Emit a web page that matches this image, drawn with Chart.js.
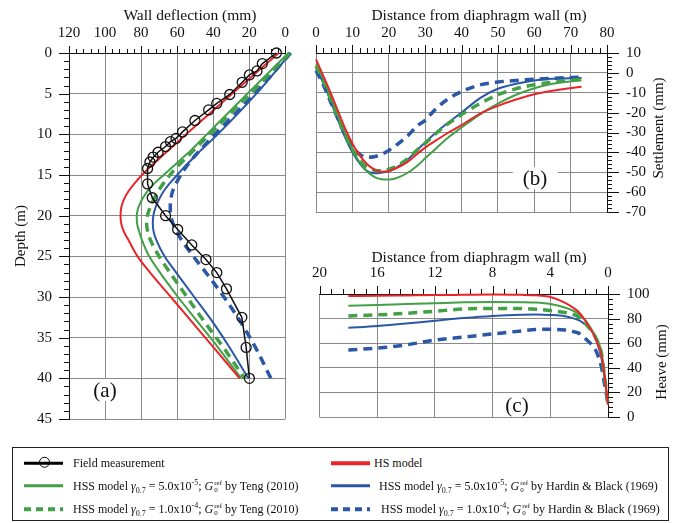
<!DOCTYPE html>
<html lang="en">

<head>
    <meta charset="UTF-8">
    <title>Wall deflection, settlement and heave</title>
    <script src="https://cdn.jsdelivr.net/npm/chart.js@4.4.1/dist/chart.umd.min.js"></script>
    <style>
        body { margin: 0; background: #fff; font-family: 'Liberation Serif', 'Times New Roman', serif; color: #111; }
        #page { position: relative; width: 682px; height: 523px; overflow: hidden; }
        #page canvas { position: absolute; }
        .tag { position: absolute; background: #fff; font-size: 21px; line-height: 22px; padding: 0 10px; transform: translate(-50%, -50%); }
        .htitle { position: absolute; font-size: 15.5px; white-space: nowrap; transform: translate(-50%, -50%); }
        .vtitle { position: absolute; font-size: 15px; white-space: nowrap; transform: translate(-50%, -50%) rotate(-90deg); }
        #legend { position: absolute; left: 12px; top: 447px; width: 657px; height: 74px; border: 1.5px solid #222; box-sizing: border-box; }
        #legend .sym { position: absolute; width: 39px; height: 3.5px; transform: translateY(-50%); }
        #legend .txt { position: absolute; font-size: 12px; line-height: 18px; white-space: nowrap; transform: translateY(-50%); }
        #legend sub, #legend sup { font-size: 8px; line-height: 0; }
        .st { display: inline-flex; flex-direction: column; vertical-align: middle; font-size: 7px; line-height: 7px; margin-left: 1px; }
        .circ { position: absolute; width: 9px; height: 9px; border: 1.4px solid #000; border-radius: 50%; left: 15px; top: -5.5px; }
    </style>
</head>

<body>
    <div id="page">
        <canvas id="chartA" width="300" height="445" style="left:0;top:0"></canvas>
        <canvas id="chartB" width="382" height="240" style="left:300px;top:0"></canvas>
        <canvas id="chartC" width="382" height="205" style="left:300px;top:240px"></canvas>

        <div class="htitle" style="left:190px;top:15px">Wall deflection (mm)</div>
        <div class="htitle" style="left:479px;top:15px">Distance from diaphragm wall (m)</div>
        <div class="htitle" style="left:479px;top:257px">Distance from diaphragm wall (m)</div>
        <div class="vtitle" style="left:658px;top:128px">Settlement (mm)</div>
        <div class="vtitle" style="left:661px;top:362px">Heave (mm)</div>

        <div class="tag" style="left:105px;top:390px">(a)</div>
        <div class="tag" style="left:535px;top:178px">(b)</div>
        <div class="tag" style="left:517px;top:405px">(c)</div>

        <div id="legend">
            <div class="sym" style="left:11px;top:15px;height:2.5px;background:#000"><div class="circ"></div></div>
            <div class="txt" style="left:60px;top:15px">Field measurement</div>
            <div class="sym" style="left:318px;top:15px;background:#e8262a"></div>
            <div class="txt" style="left:361px;top:15px">HS model</div>

            <div class="sym" style="left:11px;top:37.5px;background:#43a047"></div>
            <div class="txt" style="left:60px;top:37.5px">HSS model <i>γ</i><sub>0.7</sub> = 5.0x10<sup>-5</sup>; <i>G</i><span class="st"><span>ref</span><span>0</span></span> by Teng (2010)</div>
            <div class="sym" style="left:318px;top:37.5px;background:#2a57a6"></div>
            <div class="txt" style="left:366px;top:37.5px">HSS model <i>γ</i><sub>0.7</sub> = 5.0x10<sup>-5</sup>; <i>G</i><span class="st"><span>ref</span><span>0</span></span> by Hardin &amp; Black (1969)</div>

            <div class="sym" style="left:11px;top:61px;background:repeating-linear-gradient(to right,#43a047 0 7px,transparent 7px 12px)"></div>
            <div class="txt" style="left:60px;top:61px">HSS model <i>γ</i><sub>0.7</sub> = 1.0x10<sup>-4</sup>; <i>G</i><span class="st"><span>ref</span><span>0</span></span> by Teng (2010)</div>
            <div class="sym" style="left:318px;top:61px;background:repeating-linear-gradient(to right,#2a57a6 0 7px,transparent 7px 12px)"></div>
            <div class="txt" style="left:368px;top:61px">HSS model <i>γ</i><sub>0.7</sub> = 1.0x10<sup>-4</sup>; <i>G</i><span class="st"><span>ref</span><span>0</span></span> by Hardin &amp; Black (1969)</div>
        </div>
    </div>

    <script>
        // ---- (a) wall deflection (mm) vs depth (m)
        const fieldDepth = [0, 1.3, 2.2, 2.7, 3.6, 5.1, 6.2, 7.0, 8.3, 9.7, 10.5, 10.9, 11.5, 12.2, 12.8, 13.4, 14.2, 16.1, 17.8, 20.0, 21.7, 23.6, 25.4, 27.0, 29.0, 32.5, 36.2, 40.0];
        const fieldDefl = [4.9, 12.7, 15.7, 19.9, 23.9, 30.8, 38.0, 42.5, 50.1, 57.0, 60.6, 63.7, 66.4, 70.6, 73.3, 75.1, 76.4, 76.4, 73.8, 66.4, 59.7, 51.9, 44.0, 38.0, 32.6, 24.1, 21.7, 19.9];

        const modelDepth = [0, 5, 10, 12, 13, 14, 15, 16, 17, 18, 19, 20, 21, 22, 23, 25, 27, 30, 33, 36, 40];
        const deflHS = [3.6, 29.5, 55, 65, 70, 75, 79.5, 83.5, 87, 89.5, 91, 91.4, 91, 89.5, 87, 82, 75, 63.5, 52, 40.5, 25.3];
        const deflTeng5 = [-1.8, 21, 43.5, 52.5, 57.5, 62.5, 67.5, 72.5, 76.5, 79.5, 81.5, 82.4, 82.2, 81, 79.5, 75.5, 69.5, 59.5, 48.8, 38, 24.4];
        const deflTeng4 = [-2.5, 19.5, 42, 51, 55.5, 60, 64, 67.5, 70.5, 73, 75, 76.5, 76.9, 76.3, 74.8, 70, 64, 54.5, 45, 35, 22.6];
        const deflHB5 = [-3, 16, 37.5, 47, 51.5, 56, 60, 64, 67.5, 70, 72, 73.2, 73.5, 73, 71.5, 67, 60.5, 50.5, 40.5, 31.5, 20.5];
        const deflHB4 = [-3, 17, 39, 47.5, 51.5, 55, 58, 60.5, 62.5, 63.5, 63.8, 63.5, 62.2, 60.2, 57.5, 51, 44, 34, 25, 17, 8];

        // ---- (b) settlement (mm) vs distance from wall (m)
        const distB = [0, 2, 4, 6, 8, 10, 12, 14, 16, 18, 20, 22, 25, 28, 30, 33, 36, 40, 45, 50, 55, 60, 65, 73];
        const settleHS = [6.8, -1.5, -10, -19, -28, -35.5, -41.5, -45.8, -48.5, -49.7, -49.4, -48, -45, -40.5, -37.6, -34, -30.5, -26.3, -20.6, -16.6, -13.4, -10.8, -9, -7];
        const settleTeng5 = [4.4, -3, -12, -21.5, -30.5, -38.5, -45, -49.5, -52.3, -53.5, -53.7, -53, -50.5, -46.5, -43, -38, -33, -27.5, -21, -15.5, -11, -7.7, -5.5, -3.7];
        const settleTeng4 = [3.5, -4, -13, -22.5, -31, -38.5, -44, -47.5, -49, -49.3, -48.5, -47, -43.5, -38.5, -35.5, -30.5, -26, -21, -15.5, -11, -8, -6, -4.7, -3.3];
        const settleHB5 = [1.9, -5, -14, -23.5, -32.5, -40, -45.5, -49.3, -50.5, -50.2, -49.5, -47.8, -44, -38.5, -35, -30, -25.5, -20, -12.8, -8, -5.5, -3.8, -3, -2.6];
        const settleHB4 = [1.1, -6, -14.5, -23, -31, -37, -41, -42.5, -42.2, -41, -39, -36.5, -32, -26.5, -23.9, -18, -13.5, -9.4, -6.1, -4.6, -3.8, -3.2, -2.7, -2.2];

        // ---- (c) heave (mm) vs distance from wall (m)
        const distC = [18, 16, 14, 12, 10, 8, 6, 5, 4, 3, 2.4, 2, 1.5, 1, 0.8, 0.45, 0.23, 0];
        const heaveHS = [98.3, 98.5, 98.8, 99.1, 99.3, 99.5, 99.3, 98.9, 97.5, 93, 88.7, 85, 77, 67, 62, 50, 33, 10];
        const heaveTeng5 = [90.4, 91, 91.8, 92.5, 93.2, 93.5, 93.3, 93, 91.8, 89, 86.3, 83.5, 77.5, 68.5, 64.4, 52.5, 33, 10];
        const heaveTeng4 = [82.2, 83, 84.3, 86, 87.8, 88.3, 88.3, 87.6, 86.5, 85, 83.4, 81, 75, 67.5, 63, 51.5, 32, 10];
        const heaveHB5 = [72.5, 74, 76, 78.3, 80.5, 82.2, 83.2, 83.4, 83, 82, 80.2, 78.5, 74.5, 68, 62, 47.6, 30.8, 10];
        const heaveHB4 = [54.5, 56, 58.6, 62.5, 65, 67.5, 70, 71.2, 71.3, 70.8, 69.4, 68, 63, 57, 53, 40.5, 26, 11.6];

        const RED = '#e8262a', GREEN = '#43a047', BLUE = '#2a57a6';
        const GRID = '#8a8a8a';

        Chart.defaults.font.family = "'Liberation Serif', 'Times New Roman', serif";
        Chart.defaults.font.size = 15;
        Chart.defaults.color = '#111';

        // short tick marks (minor + major) drawn outside the plot frame
        const tickMarks = {
            id: 'tickMarks',
            afterDraw(chart, args, opts) {
                const ctx = chart.ctx, area = chart.chartArea;
                ctx.save();
                ctx.strokeStyle = '#111';
                ctx.lineWidth = 1;
                (opts.list || []).forEach(t => {
                    const sc = chart.scales[t.id];
                    const n = Math.round((sc.max - sc.min) / t.step);
                    for (let i = 0; i <= n; i++) {
                        const v = sc.min + i * t.step;
                        const isMajor = Math.abs(v / t.major - Math.round(v / t.major)) < 1e-6;
                        const len = isMajor ? t.majLen : t.len;
                        const p = Math.round(sc.getPixelForValue(v)) + 0.5;
                        ctx.beginPath();
                        if (sc.position === 'top') { ctx.moveTo(p, area.top); ctx.lineTo(p, area.top - len); }
                        else if (sc.position === 'left') { ctx.moveTo(area.left, p); ctx.lineTo(area.left - len, p); }
                        else { ctx.moveTo(area.right, p); ctx.lineTo(area.right + len, p); }
                        ctx.stroke();
                    }
                });
                ctx.restore();
            }
        };

        function xy(xs, ys) { return xs.map((x, i) => ({ x: x, y: ys[i] })); }

        function curve(label, points, color, dashed) {
            return {
                label: label,
                data: points,
                borderColor: color,
                borderWidth: dashed ? 3.5 : 2,
                borderDash: dashed ? [9, 6] : [],
                pointRadius: 0,
                cubicInterpolationMode: 'monotone',
                clip: false
            };
        }

        function axis(extra) {
            const a = Object.assign({
                type: 'linear',
                grid: { color: GRID, drawTicks: false },
                border: { color: '#111' }
            }, extra);
            a.ticks = Object.assign({ autoSkip: false, maxRotation: 0 }, extra.ticks);
            return a;
        }

        const common = {
            responsive: false,
            animation: false,
            plugins: { legend: { display: false }, tooltip: { enabled: false } }
        };

        // (a)
        new Chart(document.getElementById('chartA'), {
            type: 'line',
            data: {
                datasets: [
                    {
                        label: 'Field measurement',
                        data: xy(fieldDefl, fieldDepth),
                        borderColor: '#111', borderWidth: 1.5,
                        pointRadius: 5, pointBorderWidth: 1.3,
                        pointBorderColor: '#111', pointBackgroundColor: 'rgba(0,0,0,0)',
                        clip: false
                    },
                    curve('HS model', xy(deflHS, modelDepth), RED, false),
                    curve('HSS Teng 5e-5', xy(deflTeng5, modelDepth), GREEN, false),
                    curve('HSS Teng 1e-4', xy(deflTeng4, modelDepth), GREEN, true),
                    curve('HSS H&B 5e-5', xy(deflHB5, modelDepth), BLUE, false),
                    curve('HSS H&B 1e-4', xy(deflHB4, modelDepth), BLUE, true)
                ]
            },
            options: Object.assign({}, common, {
                indexAxis: 'y',
                layout: { padding: { left: 0, right: 10, top: 0, bottom: 12 } },
                plugins: Object.assign({}, common.plugins, {
                    tickMarks: { list: [
                        { id: 'x', step: 4, major: 20, len: 4, majLen: 7 },
                        { id: 'y', step: 1, major: 5, len: 5, majLen: 10 }
                    ] }
                }),
                scales: {
                    x: axis({
                        position: 'top', reverse: true, min: 0, max: 120,
                        ticks: { stepSize: 20, padding: 11 },
                        afterFit: s => { s.height = 53; }
                    }),
                    y: axis({
                        position: 'left', reverse: true, min: 0, max: 45,
                        ticks: { stepSize: 5, padding: 17 },
                        title: { display: true, text: 'Depth (m)', padding: { top: 12, bottom: 0 } },
                        afterFit: s => { s.width = 69; }
                    })
                }
            }),
            plugins: [tickMarks]
        });

        // (b)
        new Chart(document.getElementById('chartB'), {
            type: 'line',
            data: {
                datasets: [
                    curve('HS model', xy(distB, settleHS), RED, false),
                    curve('HSS Teng 5e-5', xy(distB, settleTeng5), GREEN, false),
                    curve('HSS Teng 1e-4', xy(distB, settleTeng4), GREEN, true),
                    curve('HSS H&B 5e-5', xy(distB, settleHB5), BLUE, false),
                    curve('HSS H&B 1e-4', xy(distB, settleHB4), BLUE, true)
                ]
            },
            options: Object.assign({}, common, {
                layout: { padding: { left: 16, right: 15, top: 0, bottom: 22 } },
                plugins: Object.assign({}, common.plugins, {
                    tickMarks: { list: [
                        { id: 'x', step: 2, major: 10, len: 5, majLen: 8 },
                        { id: 'y', step: 2, major: 10, len: 5, majLen: 12 }
                    ] }
                }),
                scales: {
                    x: axis({
                        position: 'top', min: 0, max: 80,
                        ticks: { stepSize: 10, padding: 11 },
                        afterFit: s => { s.height = 53; }
                    }),
                    y: axis({
                        position: 'right', min: -70, max: 10,
                        ticks: { stepSize: 10, padding: 19 },
                        afterFit: s => { s.width = 60; }
                    })
                }
            }),
            plugins: [tickMarks]
        });

        // (c)
        new Chart(document.getElementById('chartC'), {
            type: 'line',
            data: {
                datasets: [
                    curve('HS model', xy(distC, heaveHS), RED, false),
                    curve('HSS Teng 5e-5', xy(distC, heaveTeng5), GREEN, false),
                    curve('HSS Teng 1e-4', xy(distC, heaveTeng4), GREEN, true),
                    curve('HSS H&B 5e-5', xy(distC, heaveHB5), BLUE, false),
                    curve('HSS H&B 1e-4', xy(distC, heaveHB4), BLUE, true)
                ]
            },
            options: Object.assign({}, common, {
                layout: { padding: { left: 15, right: 14, top: 0, bottom: 12 } },
                plugins: Object.assign({}, common.plugins, {
                    tickMarks: { list: [
                        { id: 'x', step: 0.8, major: 4, len: 5, majLen: 8 },
                        { id: 'y', step: 4, major: 20, len: 5, majLen: 12 }
                    ] }
                }),
                scales: {
                    x: axis({
                        position: 'top', reverse: true, min: 0, max: 20,
                        ticks: { stepSize: 4, padding: 12 },
                        afterFit: s => { s.height = 54; }
                    }),
                    y: axis({
                        position: 'right', min: 0, max: 100,
                        ticks: { stepSize: 20, padding: 19 },
                        afterFit: s => { s.width = 60; }
                    })
                }
            }),
            plugins: [tickMarks]
        });
    </script>
</body>

</html>
